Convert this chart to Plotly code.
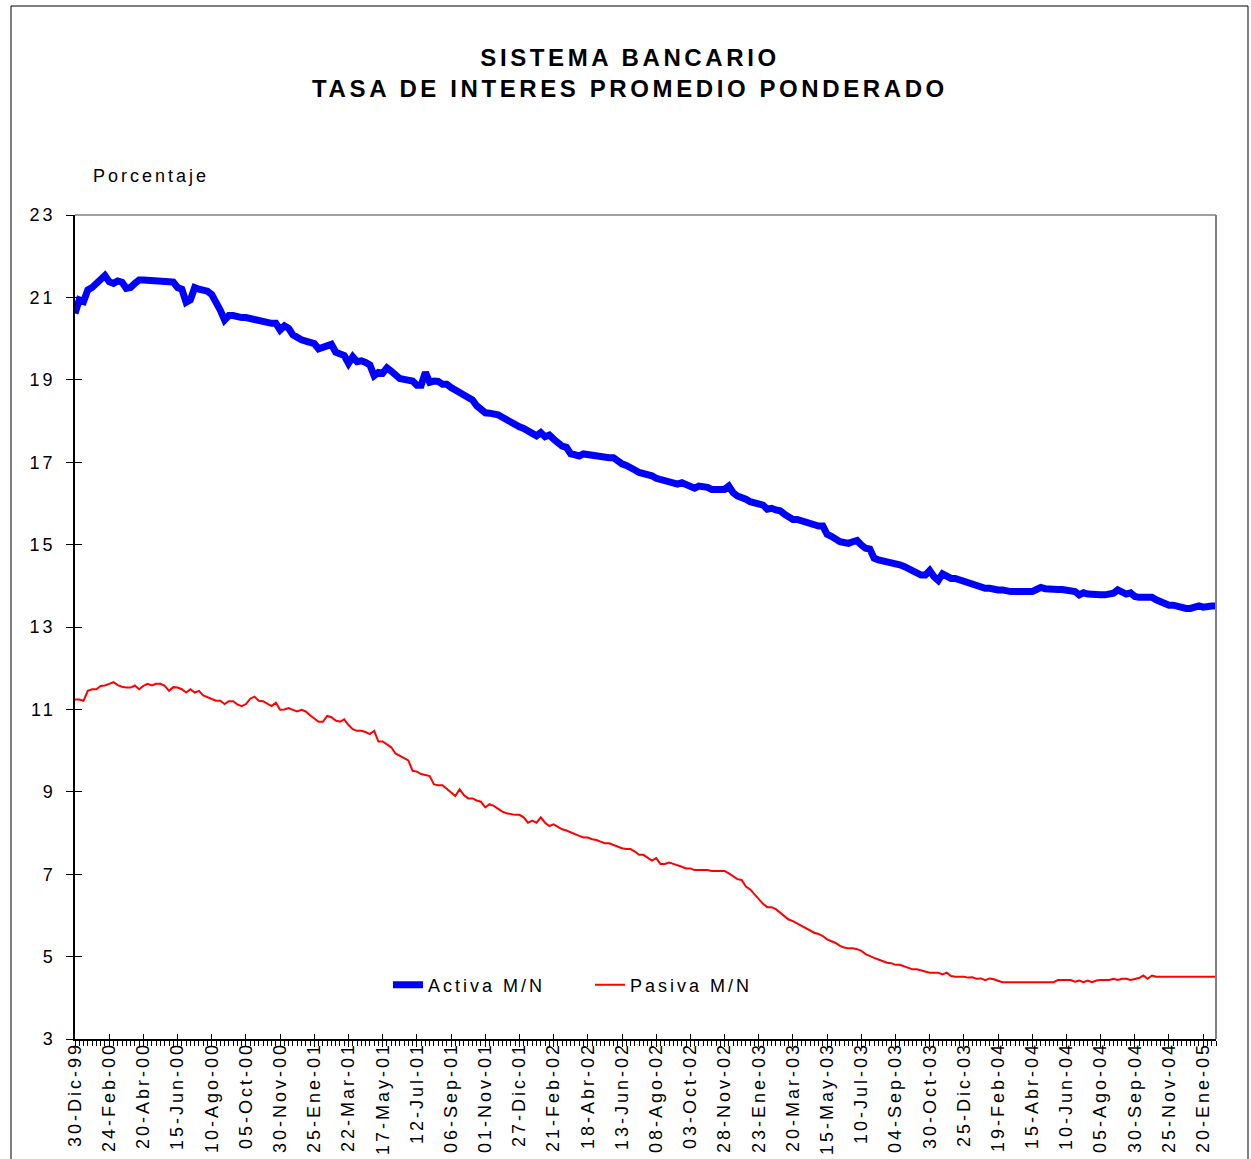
import plotly.graph_objects as go

# ---------------- data ----------------
weeks = list(range(268))  # weekly observations starting 30-Dic-99

tick_labels = [
    "30-Dic-99", "24-Feb-00", "20-Abr-00", "15-Jun-00", "10-Ago-00", "05-Oct-00",
    "30-Nov-00", "25-Ene-01", "22-Mar-01", "17-May-01", "12-Jul-01", "06-Sep-01",
    "01-Nov-01", "27-Dic-01", "21-Feb-02", "18-Abr-02", "13-Jun-02", "08-Ago-02",
    "03-Oct-02", "28-Nov-02", "23-Ene-03", "20-Mar-03", "15-May-03", "10-Jul-03",
    "04-Sep-03", "30-Oct-03", "25-Dic-03", "19-Feb-04", "15-Abr-04", "10-Jun-04",
    "05-Ago-04", "30-Sep-04", "25-Nov-04", "20-Ene-05",
]
tick_positions = [8 * k for k in range(len(tick_labels))]

y_ticks = [3, 5, 7, 9, 11, 13, 15, 17, 19, 21, 23]

activa = [
    20.61, 20.94, 20.90, 21.18, 21.24, 21.34, 21.46, 21.53, 21.38, 21.34,
    21.40, 21.37, 21.22, 21.24, 21.34, 21.42, 21.42, 21.42, 21.42, 21.42,
    21.42, 21.40, 21.38, 21.37, 21.24, 21.20, 20.88, 20.94, 21.24, 21.20,
    21.18, 21.15, 21.07, 20.90, 20.69, 20.45, 20.56, 20.56, 20.52, 20.51,
    20.51, 20.48, 20.47, 20.43, 20.41, 20.37, 20.37, 20.37, 20.21, 20.31,
    20.25, 20.09, 20.01, 19.97, 19.94, 19.91, 19.88, 19.75, 19.78, 19.80,
    19.86, 19.67, 19.62, 19.59, 19.40, 19.56, 19.44, 19.46, 19.42, 19.36,
    19.10, 19.18, 19.16, 19.29, 19.21, 19.09, 19.03, 19.01, 19.00, 18.97,
    18.87, 18.87, 19.18, 18.94, 18.97, 18.96, 18.89, 18.89, 18.81, 18.73,
    18.69, 18.63, 18.57, 18.51, 18.37, 18.27, 18.20, 18.19, 18.19, 18.15,
    18.09, 18.02, 17.96, 17.90, 17.86, 17.82, 17.78, 17.70, 17.64, 17.72,
    17.62, 17.66, 17.56, 17.46, 17.39, 17.36, 17.20, 17.18, 17.15, 17.20,
    17.18, 17.20, 17.15, 17.12, 17.11, 17.11, 17.11, 17.01, 16.96, 16.92,
    16.88, 16.81, 16.75, 16.73, 16.73, 16.67, 16.61, 16.59, 16.57, 16.53,
    16.50, 16.47, 16.50, 16.47, 16.41, 16.37, 16.42, 16.42, 16.39, 16.34,
    16.34, 16.34, 16.34, 16.42, 16.26, 16.18, 16.16, 16.10, 16.04, 16.02,
    16.02, 15.96, 15.86, 15.88, 15.84, 15.82, 15.74, 15.66, 15.61, 15.61,
    15.58, 15.53, 15.48, 15.45, 15.45, 15.45, 15.25, 15.20, 15.12, 15.07,
    15.05, 15.03, 15.07, 15.10, 14.99, 14.91, 14.89, 14.67, 14.63, 14.61,
    14.59, 14.59, 14.56, 14.51, 14.47, 14.42, 14.38, 14.32, 14.26, 14.26,
    14.37, 14.22, 14.13, 14.29, 14.22, 14.18, 14.18, 14.14, 14.14, 14.10,
    14.06, 14.00, 13.95, 13.94, 13.94, 13.91, 13.90, 13.90, 13.86, 13.86,
    13.86, 13.86, 13.86, 13.86, 13.86, 13.91, 13.96, 13.93, 13.91, 13.91,
    13.91, 13.91, 13.88, 13.88, 13.86, 13.78, 13.83, 13.80, 13.78, 13.78,
    13.78, 13.78, 13.78, 13.82, 13.90, 13.85, 13.80, 13.83, 13.74, 13.72,
    13.72, 13.72, 13.72, 13.66, 13.62, 13.56, 13.53, 13.53, 13.49, 13.45,
    13.45, 13.45, 13.48, 13.51, 13.48, 13.51, 13.51, 13.51,
]

pasiva = [
    11.24, 11.24, 11.21, 11.45, 11.49, 11.49, 11.57, 11.58, 11.62, 11.66,
    11.59, 11.55, 11.53, 11.53, 11.58, 11.49, 11.57, 11.62, 11.58, 11.62,
    11.62, 11.57, 11.45, 11.54, 11.53, 11.49, 11.41, 11.49, 11.41, 11.45,
    11.34, 11.29, 11.26, 11.21, 11.21, 11.13, 11.20, 11.20, 11.12, 11.08,
    11.13, 11.26, 11.31, 11.21, 11.20, 11.13, 11.08, 11.16, 10.99, 11.00,
    11.03, 10.99, 10.95, 10.99, 10.95, 10.86, 10.78, 10.70, 10.70, 10.84,
    10.81, 10.73, 10.70, 10.76, 10.62, 10.52, 10.48, 10.48, 10.45, 10.40,
    10.48, 10.22, 10.22, 10.16, 10.08, 9.93, 9.87, 9.81, 9.76, 9.51,
    9.49, 9.43, 9.41, 9.38, 9.18, 9.16, 9.16, 9.08, 8.98, 8.90,
    9.06, 8.92, 8.84, 8.84, 8.79, 8.76, 8.62, 8.70, 8.66, 8.58,
    8.52, 8.48, 8.46, 8.44, 8.44, 8.38, 8.25, 8.30, 8.25, 8.38,
    8.25, 8.17, 8.21, 8.15, 8.09, 8.06, 8.01, 7.97, 7.93, 7.89,
    7.89, 7.85, 7.83, 7.79, 7.75, 7.75, 7.71, 7.68, 7.63, 7.61,
    7.61, 7.55, 7.47, 7.47, 7.39, 7.33, 7.39, 7.25, 7.25, 7.28,
    7.25, 7.22, 7.18, 7.14, 7.14, 7.10, 7.10, 7.10, 7.10, 7.08,
    7.08, 7.08, 7.08, 7.02, 6.96, 6.88, 6.86, 6.70, 6.63, 6.52,
    6.41, 6.28, 6.20, 6.20, 6.15, 6.07, 5.99, 5.90, 5.86, 5.80,
    5.74, 5.68, 5.62, 5.58, 5.55, 5.50, 5.42, 5.38, 5.33, 5.26,
    5.22, 5.20, 5.20, 5.18, 5.14, 5.06, 5.01, 4.97, 4.93, 4.89,
    4.85, 4.84, 4.80, 4.80, 4.76, 4.72, 4.69, 4.69, 4.66, 4.63,
    4.61, 4.61, 4.61, 4.57, 4.61, 4.53, 4.51, 4.51, 4.51, 4.49,
    4.50, 4.46, 4.47, 4.43, 4.47, 4.45, 4.41, 4.38, 4.38, 4.38,
    4.38, 4.38, 4.38, 4.38, 4.38, 4.38, 4.38, 4.38, 4.38, 4.38,
    4.43, 4.43, 4.43, 4.43, 4.39, 4.42, 4.38, 4.42, 4.38, 4.42,
    4.43, 4.43, 4.43, 4.46, 4.43, 4.46, 4.46, 4.43, 4.46, 4.48,
    4.54, 4.46, 4.54, 4.51, 4.51, 4.51, 4.51, 4.51, 4.51, 4.51,
    4.51, 4.51, 4.51, 4.51, 4.51, 4.51, 4.51, 4.51,
]

series_names = ["Activa M/N", "Pasiva M/N"]
title_lines = ["SISTEMA BANCARIO", "TASA DE INTERES PROMEDIO PONDERADO"]
y_label = "Porcentaje"


def sp(text, ls=3):
    return f'<span style="letter-spacing:{ls}px">{text}</span>'


FONT = "Liberation Sans, Arial, Helvetica, sans-serif"

fig = go.Figure()
fig.add_trace(go.Scatter(
    x=weeks, y=activa, mode="lines", name=sp(series_names[0]),
    line=dict(color="#0000FF", width=7),
))
fig.add_trace(go.Scatter(
    x=weeks, y=pasiva, mode="lines", name=sp(series_names[1]),
    line=dict(color="#FF0000", width=2),
))
# empty trace on overlay axes (used only to draw inner half of crossing ticks)
fig.add_trace(go.Scatter(x=[None], y=[None], xaxis="x2", yaxis="y2",
                         showlegend=False, hoverinfo="skip"))

W, H = 1251, 1159
L, R, T, B = 75, 35, 215, 120
pw, ph = W - L - R, H - T - B


def px_to_paper_x(px):
    return (px - L) / pw


def px_to_paper_y(py):
    return (H - B - py) / ph


fig.update_layout(
    width=W, height=H,
    margin=dict(l=L, r=R, t=T, b=B, autoexpand=False),
    paper_bgcolor="white", plot_bgcolor="white",
    font=dict(family=FONT, size=18, color="black"),
    title=dict(
        text="<b>" + sp(title_lines[0], 3.6) + "<br>" + sp(title_lines[1], 3.6) + "</b>",
        x=630 / W, xref="container", xanchor="center",
        y=1 - 66 / H, yref="container", yanchor="middle",
        font=dict(family=FONT, size=24, color="black"),
    ),
    showlegend=True,
    legend=dict(
        orientation="h", x=px_to_paper_x(388), xanchor="left",
        y=px_to_paper_y(985), yanchor="middle",
        bgcolor="rgba(0,0,0,0)", font=dict(family=FONT, size=18),
        entrywidth=157, entrywidthmode="pixels", itemwidth=30,
    ),
    xaxis=dict(
        range=[0, 267], tickmode="array", tickvals=tick_positions,
        ticktext=[sp(t) for t in tick_labels], tickangle=-90,
        ticks="outside", ticklen=6, tickwidth=1, tickcolor="black",
        minor=dict(ticks="outside", tickmode="linear", tick0=0, dtick=1,
                   ticklen=5, tickwidth=1, tickcolor="black"),
        showline=True, linecolor="black", linewidth=1.5,
        showgrid=False, zeroline=False, tickfont=dict(size=18),
        ticklabelstandoff=-12,
    ),
    yaxis=dict(
        range=[3, 23], tickmode="array", tickvals=y_ticks,
        ticktext=[sp(str(v)) for v in y_ticks],
        ticks="outside", ticklen=7, tickwidth=1, tickcolor="black",
        showline=True, linecolor="black", linewidth=1.5,
        showgrid=False, zeroline=False, tickfont=dict(size=18),
        ticklabelstandoff=7,
    ),
    xaxis2=dict(
        overlaying="x", anchor="y2", range=[0, 267], tickmode="array",
        tickvals=tick_positions, ticks="inside", ticklen=5, tickcolor="black",
        showticklabels=False, showline=False, showgrid=False, zeroline=False,
    ),
    yaxis2=dict(
        overlaying="y", anchor="x2", range=[3, 23], tickmode="array",
        tickvals=y_ticks, ticks="inside", ticklen=7, tickcolor="black",
        showticklabels=False, showline=False, showgrid=False, zeroline=False,
    ),
    annotations=[dict(
        text=sp(y_label), x=px_to_paper_x(91), y=px_to_paper_y(176),
        xref="paper", yref="paper", xanchor="left", yanchor="middle",
        showarrow=False, font=dict(family=FONT, size=18),
    )],
    shapes=[
        # gray top & right frame of the plot area
        dict(type="line", xref="paper", yref="paper", x0=0, x1=1, y0=1, y1=1,
             line=dict(color="#808080", width=1.5)),
        dict(type="line", xref="paper", yref="paper", x0=1, x1=1, y0=0, y1=1,
             line=dict(color="#808080", width=2)),
        # outer chart border
        dict(type="rect", xref="paper", yref="paper",
             x0=px_to_paper_x(11), x1=px_to_paper_x(1248),
             y0=px_to_paper_y(1175), y1=px_to_paper_y(6),
             line=dict(color="black", width=1), layer="above"),
    ],
)

fig.write_html(
    "out.html",
    config={"displayModeBar": False},
    post_script="document.body.style.margin='0px';document.body.style.overflow='hidden';",
)
